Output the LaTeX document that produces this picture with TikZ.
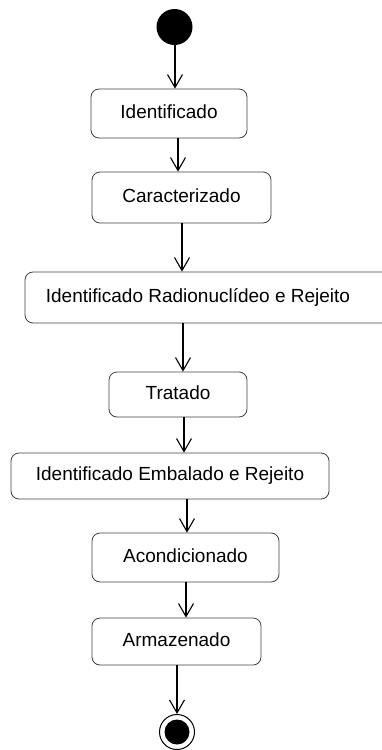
\documentclass[tikz,border=0pt]{standalone}
\usepackage{fontspec}
\setmainfont{Liberation Sans}
\usetikzlibrary{arrows.meta}
\newcommand{\uptext}[1]{\raisebox{3pt}{#1}}
\begin{document}
\begin{tikzpicture}[x=1pt,y=-1pt,
  state/.style={draw=black!75, line width=0.8pt, rounded corners=8pt,
    font=\fontsize{19}{22}\selectfont, inner sep=0pt},
  arr/.style={line width=1.1pt, -{Straight Barb[length=13pt,width=15pt,line width=1.1pt]}}]
\useasboundingbox (0,0) rectangle (382,750);
\node[circle, fill=black, minimum size=36pt, inner sep=0pt] (start) at (174.5,27) {};
\node[state, minimum width=156pt, minimum height=49pt] (s1) at (169,113.5) {\uptext{Identificado}};
\node[state, minimum width=179pt, minimum height=51pt] (s2) at (181.5,197.5) {\uptext{Caracterizado}};
\node[state, minimum width=370pt, minimum height=51pt] (s3) at (210,297.5) {\kern-24pt\uptext{Identificado Radionuclídeo e Rejeito}};
\node[state, minimum width=138pt, minimum height=45pt] (s4) at (178,394.5) {\uptext{Tratado}};
\node[state, minimum width=318pt, minimum height=46pt] (s5) at (170,476) {\uptext{Identificado Embalado e Rejeito}};
\node[state, minimum width=187pt, minimum height=49pt] (s6) at (185.5,557.5) {\uptext{Acondicionado}};
\node[state, minimum width=169pt, minimum height=47pt] (s7) at (176.5,641.5) {\uptext{Armazenado}};
\node[circle, draw, line width=1pt, minimum size=35pt, inner sep=0pt] (end) at (177,732) {};
\node[circle, fill=black, minimum size=25pt, inner sep=0pt] (endin) at (end.center) {};
\draw[arr] (start.south -| 175,0) -- (s1.north -| 175,0);
\draw[arr] (s1.south -| 178,0) -- (s2.north -| 178,0);
\draw[arr] (s2.south -| 182,0) -- (s3.north -| 182,0);
\draw[arr] (s3.south -| 183,0) -- (s4.north -| 183,0);
\draw[arr] (s4.south -| 184,0) -- (s5.north -| 184,0);
\draw[arr] (s5.south -| 187,0) -- (s6.north -| 187,0);
\draw[arr] (s6.south -| 186,0) -- (s7.north -| 186,0);
\draw[arr] (s7.south -| 177,0) -- (end.north);
\end{tikzpicture}
\end{document}
